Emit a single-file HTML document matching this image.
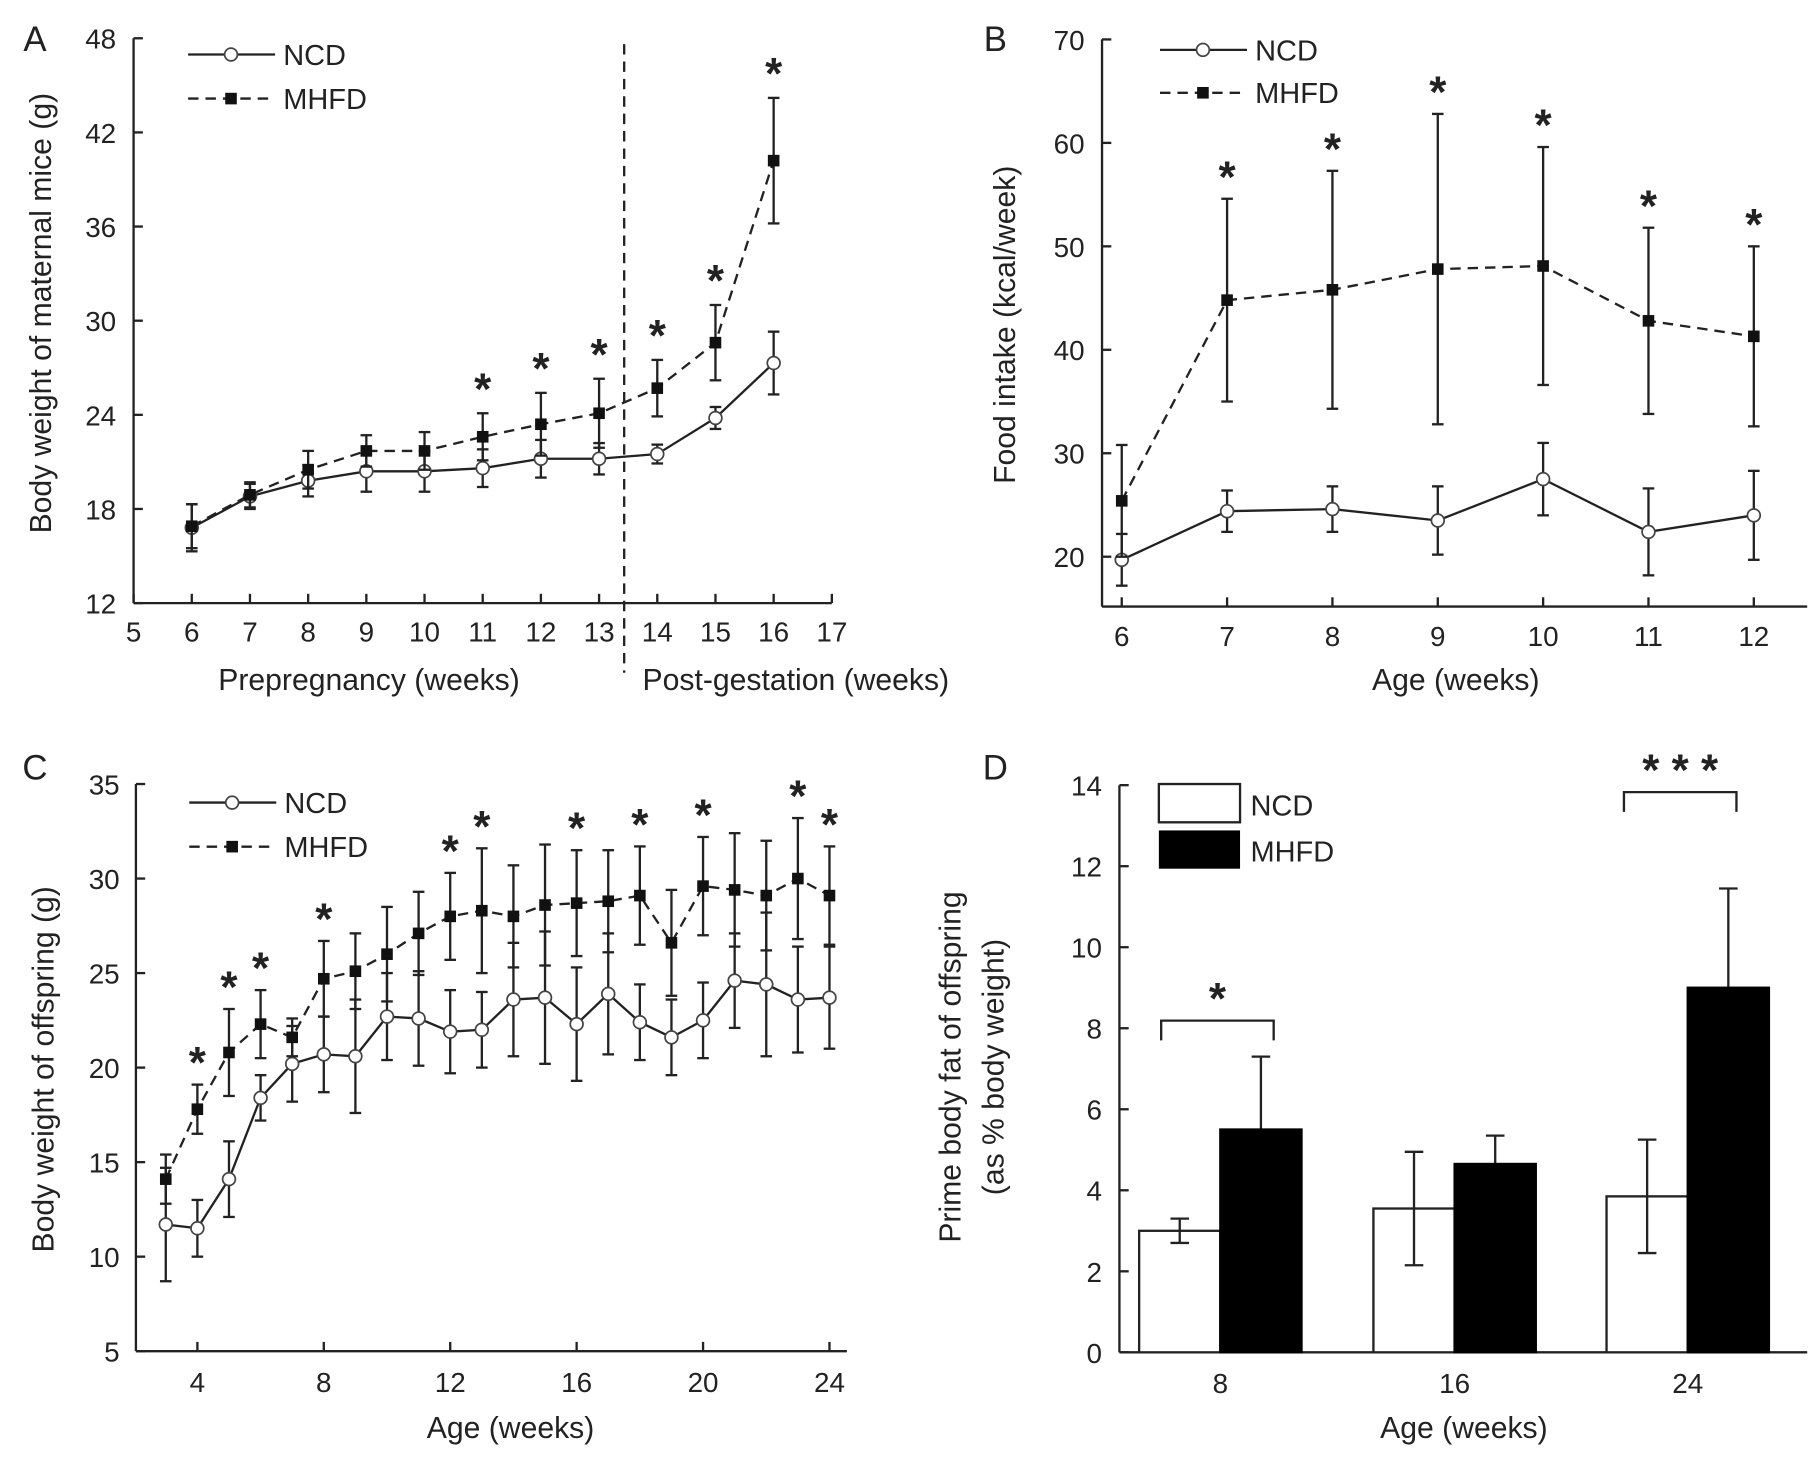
<!DOCTYPE html>
<html><head><meta charset="utf-8"><style>
html,body{margin:0;padding:0;background:#fff}
svg{display:block}
text{font-family:"Liberation Sans",Arial,sans-serif;fill:#222}
</style></head><body>
<svg id="fig" width="1819" height="1466" viewBox="0 0 1568 1264" xmlns="http://www.w3.org/2000/svg"></svg>
<script>
// Panel A data
const aWeeks=[6,7,8,9,10,11,12,13,14,15,16];
const aNcd=[16.8,18.8,19.8,20.4,20.4,20.6,21.2,21.2,21.5,23.8,27.3];
const aNcdErr=[1.5,0.8,1,1.3,1.3,1.2,1.2,1,0.6,0.7,2];
const aMhfd=[16.9,18.9,20.5,21.7,21.7,22.6,23.4,24.1,25.7,28.6,40.2];
const aMhfdErr=[1.4,0.8,1.2,1,1.2,1.5,2,2.2,1.8,2.4,4];
const aStars=[11,12,13,14,15,16];
const aXTicks=[5,6,7,8,9,10,11,12,13,14,15,16,17];
const aYTicks=[12,18,24,30,36,42,48];
// Panel B data
const bWeeks=[6,7,8,9,10,11,12];
const bNcd=[19.7,24.4,24.6,23.5,27.5,22.4,24.0];
const bNcdErr=[2.5,2,2.2,3.3,3.5,4.2,4.3];
const bMhfd=[25.4,44.8,45.8,47.8,48.1,42.8,41.3];
const bMhfdErr=[5.4,9.8,11.5,15,11.5,9,8.7];
const bStars=[7,8,9,10,11,12];
const bYTicks=[20,30,40,50,60,70];
// Panel C data
const cWeeks=[3,4,5,6,7,8,9,10,11,12,13,14,15,16,17,18,19,20,21,22,23,24];
const cNcd=[11.7,11.5,14.1,18.4,20.2,20.7,20.6,22.7,22.6,21.9,22.0,23.6,23.7,22.3,23.9,22.4,21.6,22.5,24.6,24.4,23.6,23.7];
const cNcdErr=[3,1.5,2,1.2,2,2,3,2.3,2.5,2.2,2,3,3.5,3,3.2,2,2,2,2.5,3.8,2.8,2.7];
const cMhfd=[14.1,17.8,20.8,22.3,21.6,24.7,25.1,26.0,27.1,28.0,28.3,28.0,28.6,28.7,28.8,29.1,26.6,29.6,29.4,29.1,30.0,29.1];
const cMhfdErr=[1.3,1.3,2.3,1.8,1,2,2,2.5,2.2,2.3,3.3,2.7,3.2,2.8,2.7,2.6,2.8,2.6,3,2.9,3.2,2.6];
const cStars=[4,5,6,8,12,13,16,18,20,23,24];
const cXTicks=[4,8,12,16,20,24];
const cYTicks=[5,10,15,20,25,30,35];
// Panel D data
const dGroups=["8","16","24"];
const dNcd=[3.0,3.55,3.85];
const dNcdErr=[0.3,1.4,1.4];
const dMhfd=[5.5,4.65,9.0];
const dMhfdErr=[1.8,0.7,2.45];
const dYTicks=[0,2,4,6,8,10,12,14];

const svg=document.getElementById('fig');
const NS='http://www.w3.org/2000/svg';
function el(tag,attrs,parent){const e=document.createElementNS(NS,tag);for(const k in attrs)e.setAttribute(k,attrs[k]);(parent||svg).appendChild(e);return e;}
function txt(s,x,y,size,anchor,parent,rot){const t=el('text',{x:x,y:y,'font-size':size,'text-anchor':anchor||'middle'},parent);if(rot)t.setAttribute('transform','rotate(-90 '+x+' '+y+')');t.textContent=s;return t;}
function line(x1,y1,x2,y2,p,w,dash){const l=el('line',{x1:x1,y1:y1,x2:x2,y2:y2,stroke:'#222','stroke-width':w||2},p);if(dash)l.setAttribute('stroke-dasharray',dash);return l;}
function group(name){const g=el('g',{});return g;}

function series(g,xs,ys,errs,X,Y,filled,dash,name){
  const sg=el('g',{},g);
  let d='';xs.forEach((x,i)=>{d+=(i?'L':'M')+X(x)+' '+Y(ys[i]);});
  const p=el('path',{d:d,fill:'none',stroke:'#222','stroke-width':2},sg);if(dash)p.setAttribute('stroke-dasharray',dash);
  xs.forEach((x,i)=>{
    const cx=X(x);
    const eg=el('g',{},sg);
    
    
    line(cx,Y(ys[i]-errs[i]),cx,Y(ys[i]+errs[i]),eg,2);
    line(cx-5,Y(ys[i]+errs[i]),cx+5,Y(ys[i]+errs[i]),eg,2);
    line(cx-5,Y(ys[i]-errs[i]),cx+5,Y(ys[i]-errs[i]),eg,2);
    let m;
    if(filled){m=el('rect',{x:cx-5,y:Y(ys[i])-5,width:10,height:10,fill:'#111'},sg);}
    else{m=el('circle',{cx:cx,cy:Y(ys[i]),r:5.5,fill:'#fff',stroke:'#444','stroke-width':1.5},sg);}
    
    
  });
}
function stars(g,xs,X,yfn){xs.forEach(x=>{const t=txt('*',X(x),yfn(x)+4,38,'middle',g);t.setAttribute('font-weight','bold');});}
function legend(g,x,y,gap){
  const l=el('g',{},g);
  line(x,y,x+75,y,l,2);el('circle',{cx:x+37,cy:y,r:5.5,fill:'#fff',stroke:'#444','stroke-width':1.5},l);
  txt('NCD',x+82,y+9,25,'start',l);
  line(x,y+gap,x+75,y+gap,l,2,'9,6');el('rect',{x:x+32,y:y+gap-5,width:10,height:10,fill:'#111'},l);
  txt('MHFD',x+82,y+gap+9,25,'start',l);
}

// ---------- Panel A ----------
(function(){
  const g=group('panel-a');
  const X=v=>115+(v-5)*50.17, Y=v=>520-(v-12)*(487/36);
  txt('A',30,44,30,'middle',g);
  line(115,520,717,520,g);line(115,33,115,520,g);
  aXTicks.forEach(t=>{line(X(t),520,X(t),512,g);txt(String(t),X(t),553,24,'middle',g);});
  aYTicks.forEach(t=>{line(115,Y(t),123,Y(t),g);txt(String(t),100,Y(t)+9,24,'end',g);});
  txt('Body weight of maternal mice (g)',44,270,26,'middle',g,true);
  txt('Prepregnancy (weeks)',318,595,26,'middle',g);
  txt('Post-gestation (weeks)',686,595,26,'middle',g);
  line(538,38,538,580,g,2,'9,6');
  series(g,aWeeks,aNcd,aNcdErr,X,Y,false,null,'ncd-series');
  series(g,aWeeks,aMhfd,aMhfdErr,X,Y,true,'9,6','mhfd-series');
  stars(g,aStars,X,x=>Y(aMhfd[aWeeks.indexOf(x)]+aMhfdErr[aWeeks.indexOf(x)])-12);
  legend(g,162,47,38);
})();

// ---------- Panel B ----------
(function(){
  const g=group('panel-b');
  const X=v=>967+(v-6)*90.83, Y=v=>480-(v-20)*8.92;
  txt('B',858,44,30,'middle',g);
  line(950,523,1558,523,g);line(950,34,950,523,g);
  bWeeks.forEach(t=>{line(X(t),523,X(t),515,g);txt(String(t),X(t),557,24,'middle',g);});
  bYTicks.forEach(t=>{line(950,Y(t),958,Y(t),g);txt(String(t),935,Y(t)+9,24,'end',g);});
  txt('Food intake (kcal/week)',875,280,26,'middle',g,true);
  txt('Age (weeks)',1255,595,26,'middle',g);
  series(g,bWeeks,bNcd,bNcdErr,X,Y,false,null,'ncd-series');
  series(g,bWeeks,bMhfd,bMhfdErr,X,Y,true,'9,6','mhfd-series');
  stars(g,bStars,X,x=>Y(bMhfd[bWeeks.indexOf(x)]+bMhfdErr[bWeeks.indexOf(x)])-10);
  legend(g,1000,43,37);
})();

// ---------- Panel C ----------
(function(){
  const g=group('panel-c');
  const X=v=>170+(v-4)*27.25, Y=v=>1165-(v-5)*16.3;
  txt('C',30,672,30,'middle',g);
  line(117,1165,730,1165,g);line(117,676,117,1165,g);
  cXTicks.forEach(t=>{line(X(t),1165,X(t),1157,g);txt(String(t),X(t),1200,24,'middle',g);});
  cYTicks.forEach(t=>{line(117,Y(t),125,Y(t),g);txt(String(t),103,Y(t)+9,24,'end',g);});
  txt('Body weight of offspring (g)',46,922,26,'middle',g,true);
  txt('Age (weeks)',440,1240,26,'middle',g);
  series(g,cWeeks,cNcd,cNcdErr,X,Y,false,null,'ncd-series');
  series(g,cWeeks,cMhfd,cMhfdErr,X,Y,true,'9,6','mhfd-series');
  stars(g,cStars,X,x=>Y(cMhfd[cWeeks.indexOf(x)]+cMhfdErr[cWeeks.indexOf(x)])-10);
  legend(g,163,692,38);
})();

// ---------- Panel D ----------
(function(){
  const g=group('panel-d');
  const Y=v=>1166-v*34.93;
  const centers=[1052,1254,1455], bw=70;
  txt('D',858,672,30,'middle',g);
  line(965,1166,1558,1166,g);line(965,677,965,1166,g);
  dYTicks.forEach(t=>{line(965,Y(t),973,Y(t),g);txt(String(t),950,Y(t)+9,24,'end',g);});
  dGroups.forEach((lab,i)=>{line(centers[i],1166,centers[i],1158,g);txt(lab,centers[i],1201,24,'middle',g);});
  txt('Prime body fat of offspring',828,920,26,'middle',g,true);
  txt('(as % body weight)',865,920,26,'middle',g,true);
  txt('Age (weeks)',1262,1240,26,'middle',g);
  dGroups.forEach((lab,i)=>{
    const c=centers[i];
    const b1=el('rect',{x:c-bw,y:Y(dNcd[i]),width:bw,height:Y(0)-Y(dNcd[i]),fill:'#fff',stroke:'#222','stroke-width':2},g);
    
    
    line(c-bw/2,Y(dNcd[i]-dNcdErr[i]),c-bw/2,Y(dNcd[i]+dNcdErr[i]),g);
    line(c-bw/2-8,Y(dNcd[i]+dNcdErr[i]),c-bw/2+8,Y(dNcd[i]+dNcdErr[i]),g);
    line(c-bw/2-8,Y(dNcd[i]-dNcdErr[i]),c-bw/2+8,Y(dNcd[i]-dNcdErr[i]),g);
    line(c+bw/2,Y(dMhfd[i]),c+bw/2,Y(dMhfd[i]+dMhfdErr[i]),g);
    line(c+bw/2-8,Y(dMhfd[i]+dMhfdErr[i]),c+bw/2+8,Y(dMhfd[i]+dMhfdErr[i]),g);
    const b2=el('rect',{x:c,y:Y(dMhfd[i]),width:bw,height:Y(0)-Y(dMhfd[i]),fill:'#000',stroke:'#000','stroke-width':2},g);
    
    
  });
  const br=(x1,x2,y,label)=>{const bg=el('g',{},g);
    el('path',{d:`M${x1} ${y+17}L${x1} ${y}L${x2} ${y}L${x2} ${y+17}`,fill:'none',stroke:'#222','stroke-width':2},bg);
    const t=txt(label,(x1+x2)/2,y-6,38,'middle',bg);t.setAttribute('font-weight','bold');};
  br(1001,1098,880,'*');
  br(1400,1497,683,'* * *');
  const l=el('g',{},g);
  el('rect',{x:999,y:676,width:70,height:33,fill:'#fff',stroke:'#222','stroke-width':2},l);
  txt('NCD',1078,703,25,'start',l);
  el('rect',{x:999,y:716,width:70,height:33,fill:'#000'},l);
  txt('MHFD',1078,743,25,'start',l);
})();
</script>
</body></html>
